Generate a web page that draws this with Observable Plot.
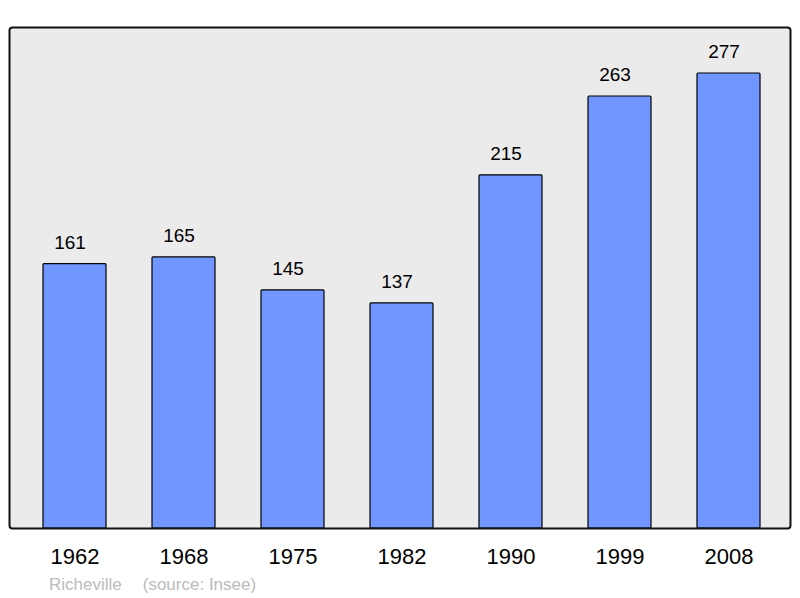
<!DOCTYPE html>
<html>
<head>
<meta charset="utf-8">
<script src="https://cdn.jsdelivr.net/npm/d3@7"></script>
<script src="https://cdn.jsdelivr.net/npm/@observablehq/plot@0.6"></script>
<style>
  html, body { margin: 0; padding: 0; background: #fff; }
  body { width: 800px; height: 598px; overflow: hidden; font-family: "Liberation Sans", Arial, sans-serif; }
  #caption { font-size: 17px; line-height: 20px; padding-top: 3px; padding-left: 49px; color: #bbbbbb; white-space: pre; }
  #caption span + span { margin-left: 21px; }
</style>
</head>
<body>
<div id="chart"></div>
<div id="caption"><span id="commune"></span><span id="source"></span></div>
<script>
const years = ["1962", "1968", "1975", "1982", "1990", "1999", "2008"];
const population = [161, 165, 145, 137, 215, 263, 277];
const commune = "Richeville";
const source = "(source: Insee)";

const data = years.map((year, i) => ({year, value: population[i]}));

const chart = Plot.plot({
  width: 800,
  height: 572,
  marginTop: 27,
  marginBottom: 44,
  marginLeft: 9,
  marginRight: 10,
  style: { fontFamily: "Liberation Sans, Arial, sans-serif", background: "white", overflow: "visible" },
  x: { domain: years, paddingInner: 0.4265, paddingOuter: 0.2846, align: 0.53, label: null },
  y: { domain: [0, 305], axis: null },
  marks: [
    Plot.frame({ fill: "#ebebeb", stroke: "none", rx: 3 }),
    Plot.barY(data, { x: "year", y: "value", fill: "#7196ff", stroke: "#000", strokeWidth: 1.2, rx: 1 }),
    Plot.text(data, { x: "year", y: "value", text: d => String(d.value), lineAnchor: "bottom", dx: -5, dy: -15, fontSize: 19, fill: "#000" }),
    Plot.frame({ stroke: "#111", strokeWidth: 2, rx: 3 }),
    Plot.axisX({ tickSize: 0, tickPadding: 20, fontSize: 22, color: "#000", label: null })
  ]
});
document.getElementById("chart").appendChild(chart);
document.getElementById("commune").textContent = commune;
document.getElementById("source").textContent = source;
</script>
</body>
</html>
